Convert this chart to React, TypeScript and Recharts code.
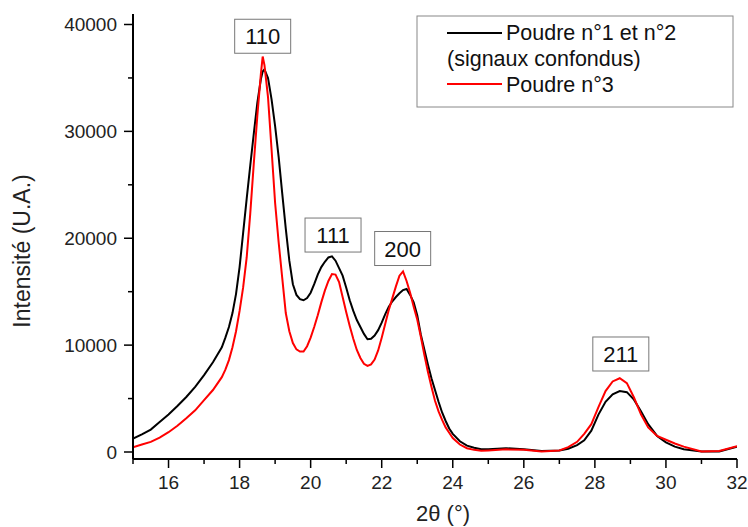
import React from 'react';
import { LineChart, Line, XAxis, YAxis, ReferenceDot } from 'recharts';

const twoTheta = [
  15, 15.25, 15.5, 15.75, 16, 16.25, 16.5, 16.75, 17, 17.25, 17.5, 17.6, 17.7, 17.8, 17.9,
  18.0, 18.1, 18.2, 18.3, 18.4, 18.5, 18.6, 18.65, 18.7, 18.8, 18.9, 19.0, 19.1, 19.2, 19.3,
  19.4, 19.5, 19.6, 19.7, 19.8, 19.9, 20.0, 20.1, 20.2, 20.3, 20.4, 20.5, 20.6, 20.7, 20.8,
  20.9, 21.0, 21.1, 21.2, 21.3, 21.4, 21.5, 21.6, 21.7, 21.8, 21.9, 22.0, 22.1, 22.2, 22.3,
  22.4, 22.5, 22.6, 22.7, 22.8, 22.9, 23.0, 23.1, 23.2, 23.3, 23.4, 23.5, 23.6, 23.7, 23.8,
  23.9, 24.0, 24.2, 24.4, 24.6, 24.8, 25.0, 25.5, 26.0, 26.5, 27.0, 27.25, 27.5, 27.7, 27.9,
  28.1, 28.3, 28.5, 28.7, 28.9, 29.1, 29.3, 29.5, 29.75, 30.0, 30.25, 30.5, 31.0, 31.5, 32.0,
];

const poudre12 = [
  1250, 1650, 2100, 2800, 3500, 4300, 5150, 6100, 7200, 8400, 9800, 10700, 11700, 13000, 14800,
  17300, 20500, 23700, 26800, 29800, 32700, 34900, 35600, 35800, 35000, 33000, 30500, 27600, 24200, 20900,
  17900, 15700, 14700, 14300, 14200, 14400, 14900, 15700, 16600, 17300, 17800, 18200, 18300, 17900, 17200,
  16500, 15400, 14200, 13200, 12350, 11700, 11050, 10550, 10600, 10900, 11400, 12100, 12900, 13600, 14100,
  14500, 14850, 15150, 15250, 14700, 14000, 12800, 11000, 9600, 8200, 6900, 5800, 4700, 3700, 2900,
  2200, 1700, 1000, 600, 400, 250, 250, 350, 250, 100, 150, 300, 650, 1100, 2000,
  3500, 4700, 5400, 5700, 5600, 4900, 3800, 2600, 1500, 900, 500, 250, 50, 50, 500,
];

const poudre3 = [
  450, 700, 950, 1350, 1850, 2450, 3150, 3900, 4850, 5800, 7000, 7700, 8600, 9800, 11300,
  13200, 15400, 18200, 22300, 27000, 31500, 35400, 37000, 36200, 33200, 28300, 23300, 19600, 16300, 13000,
  11300, 10200, 9600, 9400, 9400, 9900, 10700, 11700, 12800, 14000, 15100, 16000, 16650, 16600, 15900,
  14500, 13100, 11800, 10600, 9550, 8800, 8250, 8050, 8200, 8650, 9500, 10700, 12000, 13300, 14400,
  15500, 16500, 16900, 16000, 14900, 13600, 12400, 10800, 9100, 7500, 6100, 4800, 3800, 3000, 2300,
  1800, 1300, 700, 350, 200, 120, 150, 250, 200, 50, 150, 450, 950, 1700, 2600,
  4200, 5700, 6600, 6900, 6450, 5100, 3500, 2300, 1500, 1150, 800, 500, 50, 100, 550,
];

const xTicks = [15, 16, 17, 18, 19, 20, 21, 22, 23, 24, 25, 26, 27, 28, 29, 30, 31, 32];
const yTicks = [0, 5000, 10000, 15000, 20000, 25000, 30000, 35000, 40000];

const peakLabels = ['110', '111', '200', '211'];
const peakX = [18.65, 20.63, 22.59, 28.73];
const peakY = [38900, 20300, 19040, 9170];

const data = twoTheta.map((x, i) => ({ x, p12: poudre12[i], p3: poudre3[i] }));
const peaks = peakLabels.map((label, i) => ({ label, x: peakX[i], y: peakY[i] }));

const FONT = '"Liberation Sans", Arial, sans-serif';

const XTick = (props: any) => {
  const { x, y, payload } = props;
  const major = payload.value % 2 === 0;
  return (
    <g>
      <line x1={x} x2={x} y1={y} y2={y + (major ? 9 : 5)} stroke="#000" strokeWidth={1.5} />
      {major && (
        <text x={x} y={y + 30} textAnchor="middle" fontSize={19} fill="#222" fontFamily={FONT}>
          {payload.value}
        </text>
      )}
    </g>
  );
};

const YTick = (props: any) => {
  const { x, y, payload } = props;
  const major = payload.value % 10000 === 0;
  return (
    <g>
      <line x1={x} x2={x - (major ? 9 : 5)} y1={y} y2={y} stroke="#000" strokeWidth={1.5} />
      {major && (
        <text x={x - 16} y={y + 7} textAnchor="end" fontSize={19} fill="#222" fontFamily={FONT}>
          {payload.value}
        </text>
      )}
    </g>
  );
};

const PeakBox = (label: string) => (props: any) => {
  const { cx, cy } = props;
  return (
    <g>
      <rect x={cx - 28} y={cy - 17} width={56} height={34} fill="#fff" stroke="#777" strokeWidth={1} />
      <text x={cx} y={cy + 8} textAnchor="middle" fontSize={22} fill="#111" fontFamily={FONT}>
        {label}
      </text>
    </g>
  );
};

export default function App() {
  return (
    <div style={{ position: 'absolute', left: 0, top: 0, width: 748, height: 527, background: '#fff', fontFamily: FONT }}>
      <LineChart width={748} height={527} data={data} margin={{ top: 14, right: 11, left: 0, bottom: 0 }}>
        <XAxis
          dataKey="x"
          type="number"
          domain={[15, 32]}
          ticks={xTicks}
          interval={0}
          height={68}
          tickSize={0}
          tickMargin={0}
          tickLine={false}
          tick={<XTick />}
          axisLine={{ stroke: '#000', strokeWidth: 2 }}
          allowDataOverflow
        />
        <XAxis
          xAxisId="top"
          dataKey="x"
          orientation="top"
          type="number"
          domain={[15, 32]}
          height={0}
          tick={false}
          tickLine={false}
          axisLine={{ stroke: '#000', strokeWidth: 1.5 }}
        />
        <YAxis
          type="number"
          domain={[-655, 40982]}
          ticks={yTicks}
          interval={0}
          width={133}
          tickSize={0}
          tickMargin={0}
          tickLine={false}
          tick={<YTick />}
          axisLine={{ stroke: '#000', strokeWidth: 2 }}
          allowDataOverflow
        />
        <YAxis
          yAxisId="right"
          orientation="right"
          type="number"
          domain={[-655, 40982]}
          width={0}
          tick={false}
          tickLine={false}
          axisLine={{ stroke: '#000', strokeWidth: 1.5 }}
        />
        <Line type="linear" dataKey="p12" stroke="#000000" strokeWidth={2} dot={false} isAnimationActive={false} />
        <Line type="linear" dataKey="p3" stroke="#ff0000" strokeWidth={2} dot={false} isAnimationActive={false} />
        {peaks.map((p) => (
          <ReferenceDot key={p.label} x={p.x} y={p.y} r={0} shape={PeakBox(p.label)} ifOverflow="visible" />
        ))}
      </LineChart>
      <svg width={748} height={527} style={{ position: 'absolute', left: 0, top: 0, pointerEvents: 'none' }}>
        <text
          x={22}
          y={251}
          transform="rotate(-90, 22, 251)"
          textAnchor="middle"
          dominantBaseline="central"
          fontSize={23}
          fill="#222"
          fontFamily={FONT}
        >
          Intensité (U.A.)
        </text>
        <text x={443} y={521} textAnchor="middle" fontSize={22} fill="#222" fontFamily={FONT}>
          2θ (°)
        </text>
        <rect x={417} y={16} width={316} height={91} fill="#fff" stroke="#888" strokeWidth={1} />
        <line x1={447} x2={502} y1={33} y2={33} stroke="#000" strokeWidth={2} />
        <text x={506} y={40} fontSize={21.5} fill="#111" fontFamily={FONT}>Poudre n°1 et n°2</text>
        <text x={447} y={66} fontSize={21.5} fill="#111" fontFamily={FONT}>(signaux confondus)</text>
        <line x1={447} x2={502} y1={84} y2={84} stroke="#ff0000" strokeWidth={2} />
        <text x={506} y={92} fontSize={21.5} fill="#111" fontFamily={FONT}>Poudre n°3</text>
      </svg>
    </div>
  );
}
